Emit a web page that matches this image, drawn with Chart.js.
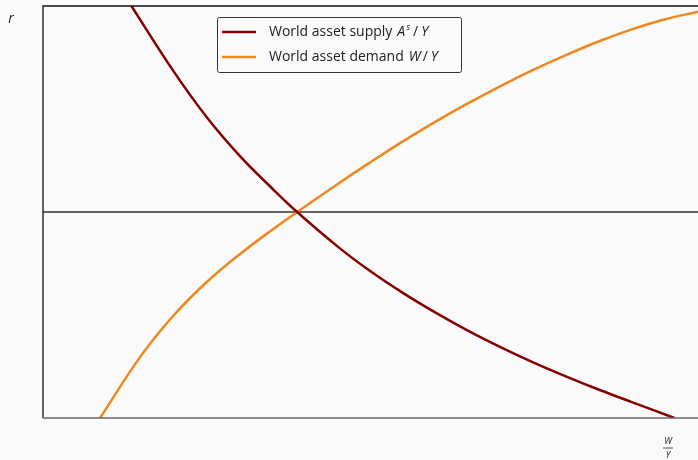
<!DOCTYPE html>
<html>
<head>
<meta charset="utf-8">
<script src="https://cdn.jsdelivr.net/npm/chart.js@4"></script>
<style>
  html, body { margin: 0; padding: 0; background: #fafafa; }
  #wrap { width: 698px; height: 460px; }
</style>
</head>
<body>
<div id="wrap"><canvas id="myChart" width="698" height="460"></canvas></div>
<script>
// world asset supply A^s/Y (falls as r rises)
const supplyX = [1.35, 2.0, 2.5, 3.0, 3.5, 3.88, 4.5, 5.0, 5.5, 6.0, 6.5, 7.0, 7.5, 8.0, 8.5, 9.0, 9.64];
const supplyR = [10.0, 8.40, 7.30, 6.37, 5.57, 5.0, 4.16, 3.56, 3.03, 2.55, 2.11, 1.71, 1.34, 1.0, 0.68, 0.38, 0.0];

// world asset demand W/Y (rises with r)
const demandX = [0.87, 1.5, 2.0, 2.5, 3.0, 3.5, 3.88, 4.5, 5.0, 5.5, 6.0, 6.5, 7.0, 7.5, 8.0, 8.5, 9.0, 9.5, 10.0];
const demandR = [0.0, 1.52, 2.50, 3.30, 3.97, 4.57, 5.0, 5.68, 6.21, 6.72, 7.20, 7.65, 8.07, 8.46, 8.82, 9.15, 9.44, 9.68, 9.86];

// equilibrium rate
const rStar = 5.0;
const xRange = [0, 10];

const seriesLabels = ["World asset supply", "World asset demand"];
const seriesColors = ["#850000", "#f0871e"];

const ctx = document.getElementById("myChart");

function toPoints(xs, ys) {
  return xs.map((x, i) => ({ x: x, y: ys[i] }));
}

const FONT = '"Open Sans", sans-serif';

// draws a run of [text, italic, dy, size, gapAfter] pieces
function drawRun(c, x, y, parts) {
  parts.forEach(([t, italic, dy, size, gap]) => {
    c.font = (italic ? "italic " : "") + size + "px " + FONT;
    c.fillText(t, x, y + dy);
    x += c.measureText(t).width + gap;
  });
}

// frame, legend and axis labels
const decorPlugin = {
  id: "decor",
  afterDatasetsDraw(chart) {
    const c = chart.ctx;
    const a = chart.chartArea;
    c.save();

    // spines
    c.lineWidth = 1.3;
    c.strokeStyle = "#111";
    c.beginPath();
    c.moveTo(a.left, a.bottom);
    c.lineTo(a.left, a.top);
    c.lineTo(a.right, a.top);
    c.stroke();
    c.strokeStyle = "#666";
    c.beginPath();
    c.moveTo(a.left, a.bottom);
    c.lineTo(a.right, a.bottom);
    c.stroke();

    // legend box
    const bx = 217.5, by = 17.5, bw = 244, bh = 55;
    c.fillStyle = "#fafafa";
    c.strokeStyle = "#333";
    c.lineWidth = 1;
    c.beginPath();
    c.roundRect(bx, by, bw, bh, 2);
    c.fill();
    c.stroke();

    const rows = [32, 57];
    c.textBaseline = "middle";
    rows.forEach((y, i) => {
      c.strokeStyle = seriesColors[i];
      c.lineWidth = 2.5;
      c.beginPath();
      c.moveTo(222, y);
      c.lineTo(256, y);
      c.stroke();
    });
    c.fillStyle = "#222";
    drawRun(c, 269, rows[0], [
      [seriesLabels[0], false, 0, 14, 5],
      ["A", true, 0, 14, 1],
      ["s", true, -5, 9, 3],
      ["/", false, 0, 14, 3],
      ["Y", true, 0, 14, 0],
    ]);
    drawRun(c, 269, rows[1], [
      [seriesLabels[1], false, 0, 14, 5],
      ["W", true, 0, 14, 2],
      ["/", false, 0, 14, 3],
      ["Y", true, 0, 14, 0],
    ]);

    // axis labels
    c.textAlign = "center";
    c.font = "italic 14px " + FONT;
    c.fillText("r", 11, 19);
    c.font = "italic 9px " + FONT;
    c.fillText("W", 668, 441);
    c.fillText("Y", 668, 455);
    c.strokeStyle = "#222";
    c.lineWidth = 0.8;
    c.beginPath();
    c.moveTo(663, 448);
    c.lineTo(673, 448);
    c.stroke();

    c.restore();
  }
};

const myChart = new Chart(ctx, {
  type: "line",
  data: {
    datasets: [
      {
        label: seriesLabels[0],
        data: toPoints(supplyX, supplyR),
        borderColor: seriesColors[0],
        borderWidth: 2.5,
        pointRadius: 0,
        tension: 0.4,
      },
      {
        label: seriesLabels[1],
        data: toPoints(demandX, demandR),
        borderColor: seriesColors[1],
        borderWidth: 2.5,
        pointRadius: 0,
        tension: 0.4,
      },
      {
        label: "r*",
        data: [{ x: xRange[0], y: rStar }, { x: xRange[1], y: rStar }],
        borderColor: "#333",
        borderWidth: 1.5,
        pointRadius: 0,
        order: 5,
      },
    ],
  },
  options: {
    responsive: false,
    animation: false,
    layout: { padding: { left: 43, top: 6, right: 0, bottom: 42 } },
    scales: {
      x: { type: "linear", min: xRange[0], max: xRange[1], display: false },
      y: { type: "linear", min: 0, max: 10, display: false },
    },
    plugins: {
      legend: { display: false },
      tooltip: { enabled: false },
    },
  },
  plugins: [decorPlugin],
});
</script>
</body>
</html>
